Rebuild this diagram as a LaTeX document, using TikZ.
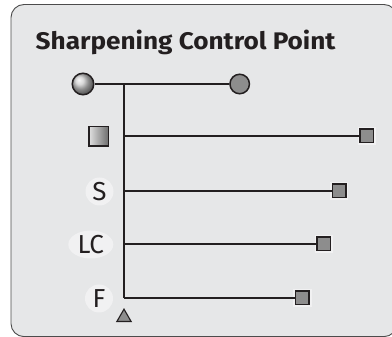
\documentclass[tikz,border=0pt]{standalone}
\usepackage{fontspec}
\setmainfont{Fira Sans}
\newfontfamily\headfont[FakeStretch=1.09]{Fira Sans Bold}
\usetikzlibrary{shapes.geometric}
\definecolor{panel}{HTML}{E6E7E8}
\definecolor{halo}{HTML}{F1F1F2}
\definecolor{ink}{HTML}{231F20}
\definecolor{knob}{HTML}{8D8D8D}
\tikzset{
  wire/.style={draw=ink,line width=1.3pt},
  glow/.style={draw=halo,line width=2.2pt,shift={(1.6,1.6)}},
  endbox/.style={draw=ink,fill=knob,line width=1.6pt,minimum size=13.4pt,
    inner sep=0pt,outer sep=0pt,preaction={draw=halo,line width=5pt}},
  tag/.style={ellipse,fill=halo,inner sep=0pt,minimum width=28pt,minimum height=28pt,
    text=ink,font=\fontsize{26}{26}\selectfont},
}

\begin{document}
\begin{tikzpicture}[x=1pt,y=-1pt]
        \useasboundingbox (0,0) rectangle (392,337);
        \clip (0,0) rectangle (392,337);
        \draw[draw=gray!60!black,fill=panel,line width=0.9pt,rounded corners=13pt]
          (11,4.5) rectangle (397,336.6); % panel
        \node[anchor=base west,inner sep=0pt,text=ink,font=\fontsize{24}{24}\headfont]
          (title) at (35.5,50) {Sharpening Control Point};
        % knobs on the top line
        \node[circle,draw=ink,line width=1.5pt,ball color=gray!40,
          minimum size=21.5pt,inner sep=0pt] (ball) at (83,84) {};
        \node[circle,draw=ink,line width=1.5pt,fill=knob,minimum size=19.5pt,inner sep=0pt]
          (dot) at (239.7,84) {};
        % row labels
        \node[draw=ink,line width=1.5pt,left color=gray!25,right color=gray!85!black,
          minimum size=19.5pt,inner sep=0pt] (grad) at (98.8,136.4) {};
        \node[tag] (S) at (99.5,191.5) {S};
        \node[tag,minimum width=45pt] (LC) at (90.8,244.5) {LC};
        \node[tag] (F) at (99,298.5) {F};
        \node[regular polygon,regular polygon sides=3,draw=ink,fill=knob,line width=1.1pt,
          minimum size=16.5pt,inner sep=0pt] (tri) at (124,317.4) {};
        % spine and branches
        \coordinate (jtop) at (124,84);
        \coordinate (jbot) at (124,298);
        \foreach \y/\xe/\nm in {136/366.7/mA,191/339/mB,244/323.7/mC,298/302.3/mD}
        {
          \coordinate (j\nm) at (124,\y);
          \node[endbox] (\nm) at (\xe,\y) {};
        }
        \draw[glow] (ball.east) -- (dot.west);
        \draw[glow] (jtop) -- (jbot);
        \foreach \nm in {mA,mB,mC,mD}
        \draw[glow] (j\nm) -- (\nm.west);
        \draw[wire] (ball) -- (dot);
        \draw[wire] (jtop) -- (jbot);
        \foreach \nm in {mA,mB,mC,mD}
        \draw[wire] (j\nm) -- (\nm);
\end{tikzpicture}
\end{document}
